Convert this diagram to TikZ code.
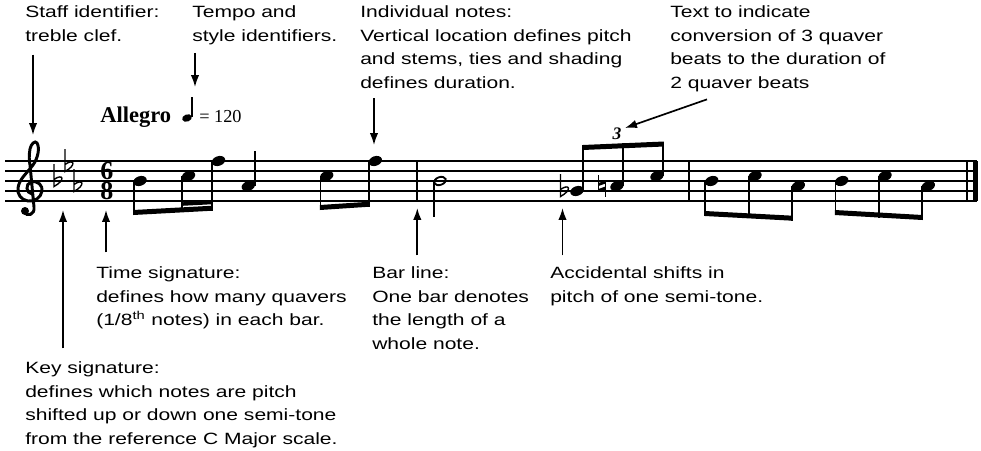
\documentclass[tikz,border=0pt]{standalone}
\usepackage{fontspec}
\newfontfamily\annfont[FakeStretch=1.29]{Liberation Sans}
\newfontfamily\scorefont{Liberation Serif}
\usetikzlibrary{arrows.meta,calc}

\newcommand{\quaver}[2]{\fill[rotate around={20:(#1,#2)}] (#1,#2) ellipse [x radius=6.9, y radius=4.8];}
\newcommand{\minim}[2]{\draw[line width=1.3pt,rotate around={20:(#1,#2)}] (#1,#2) ellipse [x radius=6, y radius=3.9];}
\newcommand{\flatsign}[2]{\draw[line width=1pt] (#1,#2-17) -- (#1,#2+5.5) .. controls (#1+12,#2-1) and (#1+9,#2-8) .. (#1,#2-1.5);}
\newcommand{\naturalsign}[2]{\draw[line width=.9pt] (#1-3.5,#2-11) -- (#1-3.5,#2+5) (#1+3.5,#2-5) -- (#1+3.5,#2+11);
  \draw[line width=2pt] (#1-3.5,#2-1.5) -- (#1+3.5,#2-4) (#1-3.5,#2+4.5) -- (#1+3.5,#2+2);}
\newcommand{\beam}[4]{\fill (#1,#2) -- (#3,#4) -- (#3,#4-5) -- (#1,#2-5) -- cycle;}

\begin{document}
\begin{tikzpicture}[x=.025cm, y=-.025cm, >={Latex[length=8.5pt,width=6pt]},
  staffline/.style={line width=.9pt},
  stem/.style={line width=1.25pt},
  ann/.style={->, line width=1.2pt},
  label/.style={anchor=north west, inner sep=0pt, align=left,
    font=\annfont\fontsize{11.6pt}{16.9pt}\selectfont}]
\useasboundingbox (0,0) rectangle (981,450);

% staff and bar lines
\foreach \i in {0,...,4} \draw[staffline] (5,161+10*\i) -- (977,161+10*\i);
\draw[stem] (417.3,161) -- (417.3,201);
\draw[stem] (689.3,161) -- (689.3,201);
\draw[stem] (967.3,161) -- (967.3,201);
\fill (972.5,161) rectangle (977.5,201);

% clef, key, time
\draw[line width=2.1pt, line cap=round] (32,194) .. controls (26,193) and (25,184) .. (31,182)
  .. controls (38,180) and (43,186) .. (42,191)
  .. controls (41,198) and (34,202) .. (28,201)
  .. controls (21,200) and (17,194) .. (18,188)
  .. controls (19,179) and (28,172) .. (33,165)
  .. controls (38,158) and (40,148) .. (37,143)
  .. controls (35,140) and (31,144) .. (30,149)
  .. controls (29,155) and (29,160) .. (30,165)
  -- (34,207) .. controls (35,215) and (27,217) .. (24,212);
\fill (25,211) circle (4);
\flatsign{54}{181} \flatsign{65}{166} \flatsign{74}{186}
\node[inner sep=0pt, align=center, font=\scorefont\bfseries\fontsize{18.5pt}{14.2pt}\selectfont] (metre) at (107,181) {6\\8};

% tempo
\node[anchor=base west, inner sep=0pt, font=\scorefont\bfseries\fontsize{16pt}{16pt}\selectfont] (allegro) at (100,122) {Allegro};
\fill[rotate around={20:(187,118)}] (187,118) ellipse [x radius=5, y radius=3.6];
\draw[stem] (191.8,117) -- (191.8,97);
\node[anchor=base west, inner sep=0pt, font=\scorefont\fontsize{13pt}{13pt}\selectfont] (bpm) at (199,122) {= 120};

% bar 1
\quaver{140}{181} \draw[stem] (133.7,181) -- (133.7,215);
\quaver{188.5}{176} \draw[stem] (182.2,176) -- (182.2,212.3);
\quaver{218.5}{161} \draw[stem] (212.2,161) -- (212.2,210.7);
\beam{133.2}{215}{212.7}{210.7}
\fill (182.2,205.8) -- (212.7,204.2) -- (212.7,200.7) -- (182.2,202.3) -- cycle;
\quaver{248.3}{186} \draw[stem] (254.8,186) -- (254.8,151);
\quaver{326.7}{176} \draw[stem] (320.4,176) -- (320.4,210);
\quaver{375.3}{161} \draw[stem] (369.2,161) -- (369.2,206.7);
\beam{319.9}{210}{369.7}{206.7}

% bar 2
\minim{440}{181} \draw[stem] (434,181) -- (434,217);
\flatsign{560.5}{191}
\quaver{577}{191} \draw[stem] (583.3,191) -- (583.3,145);
\naturalsign{602}{186}
\quaver{617}{186} \draw[stem] (623.3,186) -- (623.3,143.3);
\quaver{657}{176} \draw[stem] (663.3,176) -- (663.3,141.5);
\beam{582.7}{150}{663.9}{146.5}
\node[inner sep=0pt, font=\scorefont\bfseries\itshape\fontsize{12.5pt}{12.5pt}\selectfont] (three) at (617,134) {3};

% bar 3
\quaver{711.7}{181} \draw[stem] (705.3,181) -- (705.3,216);
\quaver{755}{176} \draw[stem] (748.7,176) -- (748.7,218.3);
\quaver{798.3}{186} \draw[stem] (792,186) -- (792,220.7);
\beam{704.8}{216}{792.5}{220.7}
\quaver{841.7}{181} \draw[stem] (835.4,181) -- (835.4,215);
\quaver{885}{176} \draw[stem] (878.7,176) -- (878.7,217.5);
\quaver{928.3}{186} \draw[stem] (922,186) -- (922,220);
\beam{834.9}{215}{922.5}{220}

% labels
\node[label] (staffid) at (25,5.3) {Staff identifier:\\treble clef.};
\node[label] (tempo) at (192,5.3) {Tempo and\\style identifiers.};
\node[label] (notes) at (360,5.3) {Individual notes:\\Vertical location defines pitch\\and stems, ties and shading\\defines duration.};
\node[label] (conversion) at (670,5.3) {Text to indicate\\conversion of 3 quaver\\beats to the duration of\\2 quaver beats};
\node[label] (timesig) at (96,266.3) {Time signature:\\defines how many quavers\\(1/8\textsuperscript{th} notes) in each bar.};
\node[label] (keysig) at (25,361.3) {Key signature:\\defines which notes are pitch\\shifted up or down one semi-tone\\from the reference C Major scale.};
\node[label] (barline) at (372,266.3) {Bar line:\\One bar denotes\\the length of a\\whole note.};
\node[label] (accidental) at (550,266.3) {Accidental shifts in\\pitch of one semi-tone.};

% arrows
\coordinate (clef) at (33,135);
\coordinate (tempo pt) at (195,87);
\coordinate (note pt) at (374,145);
\coordinate (three pt) at (625,128);
\coordinate (key pt) at (63,210);
\coordinate (time pt) at (106,210);
\coordinate (bar pt) at (417.3,208);
\coordinate (acc pt) at (562.5,208);
\draw[ann] ($(staffid.south -| clef)+(0,13)$) -- (clef);
\draw[ann] ($(tempo.south -| tempo pt)+(0,8)$) -- (tempo pt);
\draw[ann] ($(notes.south -| note pt)+(0,9)$) -- (note pt);
\draw[ann] ($(conversion.south west)+(37,7)$) -- (three pt);
\draw[ann] ($(keysig.north -| key pt)+(0,-13)$) -- (key pt);
\draw[ann] ($(timesig.north -| time pt)+(0,-14)$) -- (time pt);
\draw[ann] ($(barline.north -| bar pt)+(0,-11)$) -- (bar pt);
\draw[ann] ($(accidental.north -| acc pt)+(0,-11)$) -- (acc pt);
\end{tikzpicture}
\end{document}
